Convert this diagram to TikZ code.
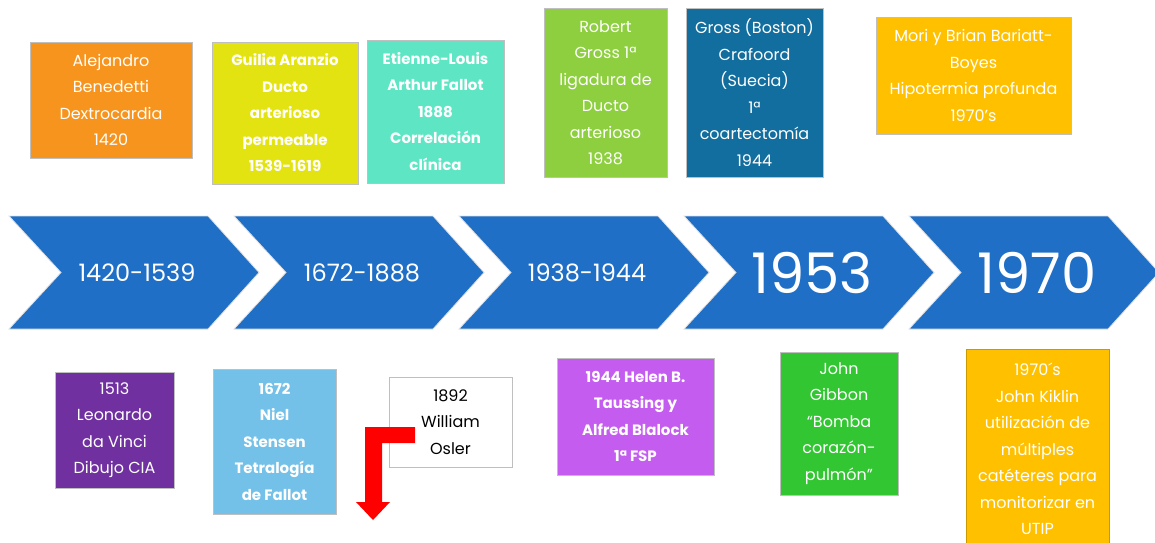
\documentclass[tikz,border=0pt]{standalone}
\usepackage{fontspec}
\setmainfont{Poppins}
\usepackage{tikz}
\definecolor{chevblue}{HTML}{1F6FC6}
\definecolor{orangebox}{HTML}{F7941D}
\definecolor{yellowbox}{HTML}{E4E312}
\definecolor{mintbox}{HTML}{5EE6C4}
\definecolor{limebox}{HTML}{8DCF3F}
\definecolor{petrolbox}{HTML}{116E9E}
\definecolor{amberbox}{HTML}{FFC000}
\definecolor{purplebox}{HTML}{7030A0}
\definecolor{skybox}{HTML}{73C0E8}
\definecolor{pinkbox}{HTML}{C45CF0}
\definecolor{greenbox}{HTML}{33C633}
\tikzset{event/.style={draw=black!25,line width=0.6pt,text=white,align=center,
        inner sep=0pt,font=\fontsize{16}{26.5}\selectfont},
    bold event/.style={event,font=\fontsize{15}{26.5}\selectfont\bfseries},
    period/.style={fill=chevblue,draw=black!12,line width=0.8pt},
    x=1pt,y=-1pt}

\begin{document}
\begin{tikzpicture}
\useasboundingbox (0,0) rectangle (1155,542);
% periods
\foreach \l/\yr/\fs [count=\i] in {9/1420-1539/24,234/1672-1888/24,459/1938-1944/24,
    684/1953/56,909/1970/56}{
    \draw[period] (\l,216) -- (\l+199,216) -- (\l+250,272.5) -- (\l+199,329)
        -- (\l,329) -- (\l+52,272.5) -- cycle;
    \node[text=white,font=\fontsize{\fs}{\fs}\selectfont] (period\i) at (\l+128,272.5) {\yr};
}
% top row
\node[event,fill=orangebox,minimum width=162,minimum height=116] (benedetti) at (111,100)
    {Alejandro\\Benedetti\\Dextrocardia\\1420};
\node[bold event,fill=yellowbox,minimum width=146,minimum height=142] (aranzio) at (285,113)
    {Guilia Aranzio\\Ducto\\arterioso\\permeable\\1539-1619};
\node[bold event,fill=mintbox,minimum width=137,minimum height=143] (fallot) at (435.5,111.5)
    {Etienne-Louis\\Arthur Fallot\\1888\\Correlación\\clínica};
\node[event,fill=limebox,minimum width=123,minimum height=169] (gross) at (605.5,92.5)
    {Robert\\Gross 1ª\\ligadura de\\Ducto\\arterioso\\1938};
\node[event,fill=petrolbox,minimum width=137,minimum height=169] (crafoord) at (754.5,92.5)
    {Gross (Boston)\\Crafoord\\(Suecia)\\1ª\\coartectomía\\1944};
\node[event,fill=amberbox,minimum width=195,minimum height=117] (mori) at (973.5,75.5)
    {Mori y Brian Bariatt-\\Boyes\\Hipotermia profunda\\1970's};
% bottom row
\node[event,fill=purplebox,minimum width=119,minimum height=116] (davinci) at (114.5,430)
    {1513\\Leonardo\\da Vinci\\Dibujo CIA};
\node[bold event,fill=skybox,minimum width=123,minimum height=145] (stensen) at (274.5,441.5)
    {1672\\Niel\\Stensen\\Tetralogía\\de Fallot};
\node[event,fill=white,text=black,minimum width=123,minimum height=90] (osler) at (450.5,422)
    {1892\\William\\Osler};
\fill[red] (415,427) -- (365,427) -- (365,502) -- (356,502) -- (373,520) -- (390,502)
    -- (382,502) -- (382,443) -- (415,443) -- cycle;
\node[bold event,fill=pinkbox,minimum width=157,minimum height=117] (taussig) at (635.5,416.5)
    {1944 Helen B.\\Taussing y\\Alfred Blalock\\1ª FSP};
\node[event,fill=greenbox,minimum width=118,minimum height=143] (gibbon) at (839,423.5)
    {John\\Gibbon\\“Bomba\\corazón-\\pulmón”};
\node[event,draw=amberbox!80!black,fill=amberbox,minimum width=143,minimum height=200] (kirklin)
    at (1037.5,449)
    {1970´s\\John Kiklin\\utilización de\\múltiples\\catéteres para\\monitorizar en\\UTIP};
\end{tikzpicture}
\end{document}
